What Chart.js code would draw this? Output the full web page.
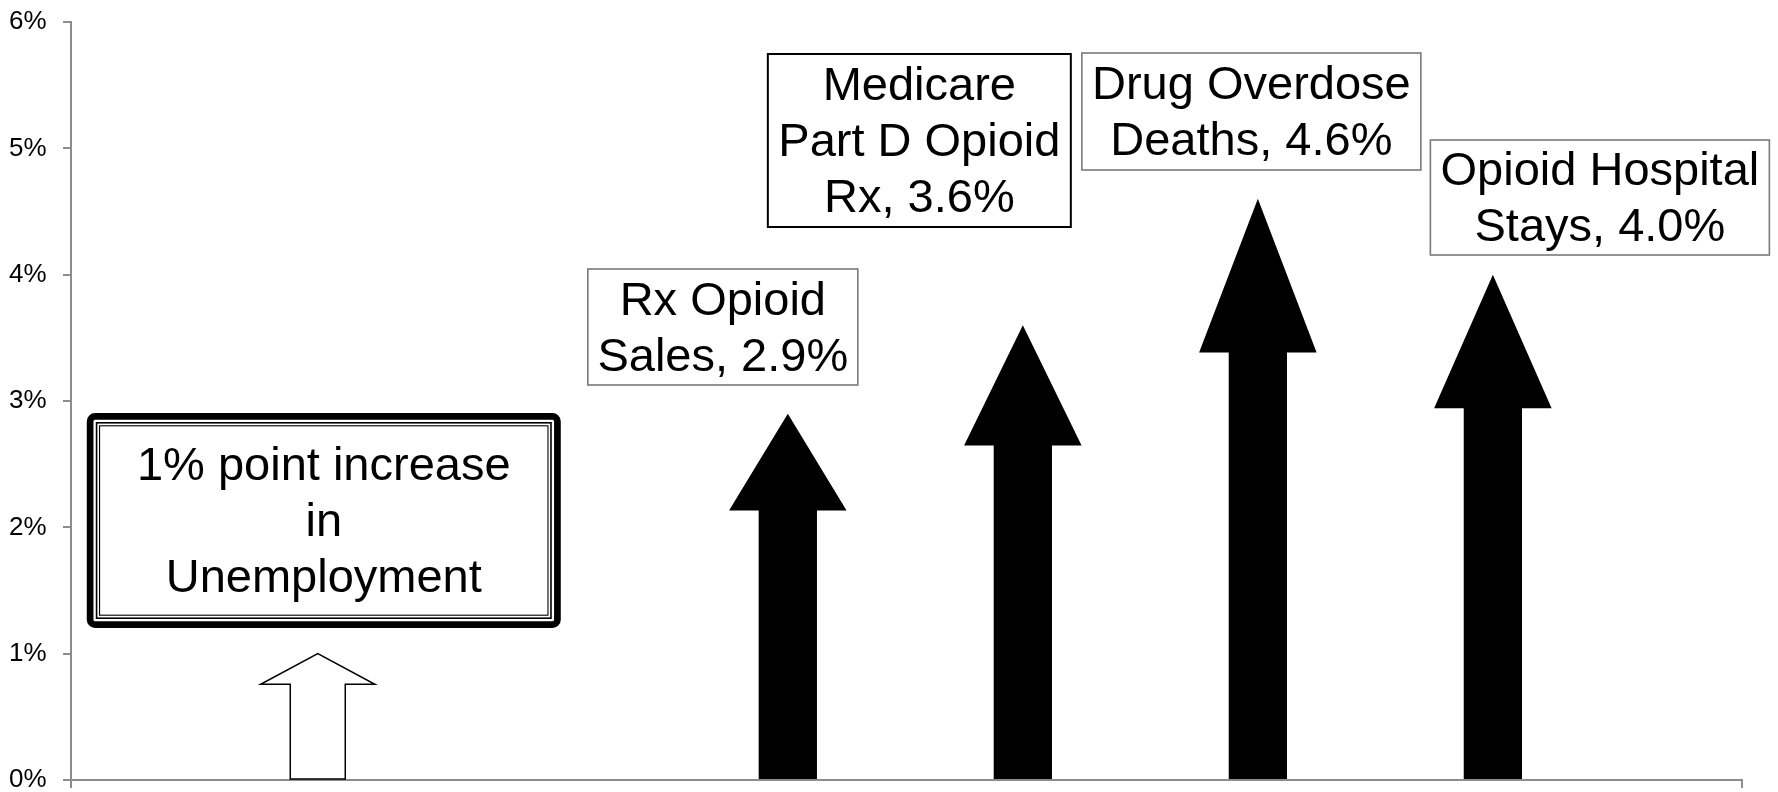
<!DOCTYPE html>
<html>
<head>
<meta charset="utf-8">
<script src="https://cdn.jsdelivr.net/npm/chart.js@4.4.1/dist/chart.umd.min.js"></script>
<style>
  html, body { margin: 0; padding: 0; background: #fff; }
  #wrap { width: 1778px; height: 792px; position: relative; }
</style>
</head>
<body>
<div id="wrap"><canvas id="chart"></canvas></div>
<script>
// effect of a 1 point rise in unemployment (slot 1 is an empty gap)
const categories = ['Unemployment', '', 'Rx Opioid Sales', 'Medicare Part D Opioid Rx', 'Drug Overdose Deaths', 'Opioid Hospital Stays'];
const values = [1.0, null, 2.9, 3.6, 4.6, 4.0];
const labelLines = [
    ['1% point increase', 'in', 'Unemployment'],
    null,
    ['Rx Opioid', 'Sales, 2.9%'],
    ['Medicare', 'Part D Opioid', 'Rx, 3.6%'],
    ['Drug Overdose', 'Deaths, 4.6%'],
    ['Opioid Hospital', 'Stays, 4.0%']
];
const yTicks = [0, 1, 2, 3, 4, 5, 6];

const FONT = "'Liberation Sans', Arial, sans-serif";
const AXIS_GRAY = '#8c8c8c';

// arrow look: shaft/head half widths in x units, head length as share of arrow
const arrowStyle = [
    { fill: '#fff', stroke: '#000', shaft: 0.117, head: 0.243, headFrac: 0.245 },
    null,
    { fill: '#000', shaft: 0.124, head: 0.25, headFrac: 0.265 },
    { fill: '#000', shaft: 0.124, head: 0.25, headFrac: 0.265 },
    { fill: '#000', shaft: 0.124, head: 0.25, headFrac: 0.265 },
    { fill: '#000', shaft: 0.124, head: 0.25, headFrac: 0.265 }
];

// callout boxes: dx = box centre offset from arrow, top/w/h in px
const boxStyle = [
    { dx: 6, top: 413, w: 474, h: 215, border: 'double' },
    null,
    { dx: -65, top: 268, w: 272, h: 118, border: 'gray' },
    { dx: -103.5, top: 53, w: 305, h: 175, border: 'black' },
    { dx: -6.5, top: 52, w: 341, h: 119, border: 'gray' },
    { dx: 107, top: 139, w: 341, h: 117, border: 'gray' }
];

function roundRect(ctx, x, y, w, h, r) {
    ctx.beginPath();
    ctx.moveTo(x + r, y);
    ctx.lineTo(x + w - r, y);
    ctx.arcTo(x + w, y, x + w, y + r, r);
    ctx.lineTo(x + w, y + h - r);
    ctx.arcTo(x + w, y + h, x + w - r, y + h, r);
    ctx.lineTo(x + r, y + h);
    ctx.arcTo(x, y + h, x, y + h - r, r);
    ctx.lineTo(x, y + r);
    ctx.arcTo(x, y, x + r, y, r);
    ctx.closePath();
}

const arrowsPlugin = {
    id: 'arrows',
    afterDatasetsDraw(chart) {
        const ctx = chart.ctx;
        const xs = chart.scales.x, ys = chart.scales.y;
        const unit = xs.getPixelForValue(1) - xs.getPixelForValue(0);
        const base = ys.getPixelForValue(0) - 1;
        ctx.save();
        values.forEach((v, i) => {
            if (v === null) return;
            const st = arrowStyle[i];
            const cx = xs.getPixelForValue(i);
            const tip = ys.getPixelForValue(v);
            const hb = tip + (base - tip) * st.headFrac;
            const sw = st.shaft * unit, hw = st.head * unit;
            ctx.beginPath();
            ctx.moveTo(cx - sw, base);
            ctx.lineTo(cx - sw, hb);
            ctx.lineTo(cx - hw, hb);
            ctx.lineTo(cx, tip);
            ctx.lineTo(cx + hw, hb);
            ctx.lineTo(cx + sw, hb);
            ctx.lineTo(cx + sw, base);
            ctx.closePath();
            ctx.fillStyle = st.fill;
            ctx.fill();
            if (st.stroke) {
                ctx.strokeStyle = st.stroke;
                ctx.lineWidth = 1.5;
                ctx.stroke();
            }
        });

        // callout boxes
        labelLines.forEach((lines, i) => {
            if (!lines) return;
            const b = boxStyle[i];
            const cx = xs.getPixelForValue(i) + b.dx;
            const x = cx - b.w / 2, y = b.top;
            ctx.fillStyle = '#fff';
            ctx.fillRect(x, y, b.w, b.h);
            if (b.border === 'double') {
                ctx.strokeStyle = '#000';
                ctx.lineWidth = 6.7;
                roundRect(ctx, x + 3.35, y + 3.35, b.w - 6.7, b.h - 6.7, 5);
                ctx.stroke();
                ctx.lineWidth = 1.6;
                ctx.strokeRect(x + 9.8, y + 9.8, b.w - 19.6, b.h - 19.6);
                ctx.lineWidth = 1.1;
                ctx.strokeRect(x + 12.8, y + 12.8, b.w - 25.6, b.h - 25.6);
            } else {
                ctx.strokeStyle = b.border === 'black' ? '#000' : '#7a7a7a';
                ctx.lineWidth = b.border === 'black' ? 2 : 1.6;
                ctx.strokeRect(x + 1, y + 1, b.w - 2, b.h - 2);
            }
            ctx.fillStyle = '#000';
            ctx.font = '47px ' + FONT;
            ctx.textAlign = 'center';
            ctx.textBaseline = 'alphabetic';
            const mid = y + b.h / 2;
            const lh = 56;
            lines.forEach((t, k) => {
                ctx.fillText(t, cx, mid + (k - (lines.length - 1) / 2) * lh + 15.5);
            });
        });
        ctx.restore();
    }
};

const points = [];
values.forEach((v, i) => {
    if (v !== null) points.push({ x: i, y: v });
});

new Chart(document.getElementById('chart'), {
    type: 'scatter',
    data: {
        datasets: [{ label: 'Effect', data: points, pointRadius: 0, pointHoverRadius: 0, showLine: false }]
    },
    options: {
        responsive: true,
        maintainAspectRatio: false,
        animation: false,
        events: [],
        layout: { padding: { top: 22, right: 36, bottom: 0, left: 9 } },
        plugins: { legend: { display: false }, tooltip: { enabled: false } },
        scales: {
            x: {
                type: 'linear',
                min: -1.05,
                max: 6.06,
                afterBuildTicks: axis => { axis.ticks = [{ value: axis.min }, { value: axis.max }]; },
                afterFit: axis => { axis.height = 12; },
                ticks: { callback: () => '', padding: 0, font: { size: 1 } },
                grid: { drawOnChartArea: false, drawTicks: true, tickLength: 8, color: AXIS_GRAY, lineWidth: 2 },
                border: { color: AXIS_GRAY, width: 2 }
            },
            y: {
                min: 0,
                max: 6,
                afterBuildTicks: axis => { axis.ticks = yTicks.map(t => ({ value: t })); },
                afterFit: axis => { axis.width = 62; },
                ticks: {
                    callback: v => v + '%',
                    color: '#000',
                    padding: 0,
                    crossAlign: 'far',
                    font: { family: FONT, size: 26, lineHeight: 0.9 }
                },
                grid: { drawOnChartArea: false, drawTicks: true, tickLength: 8, color: AXIS_GRAY, lineWidth: 2 },
                border: { color: AXIS_GRAY, width: 2 }
            }
        }
    },
    plugins: [arrowsPlugin]
});
</script>
</body>
</html>
